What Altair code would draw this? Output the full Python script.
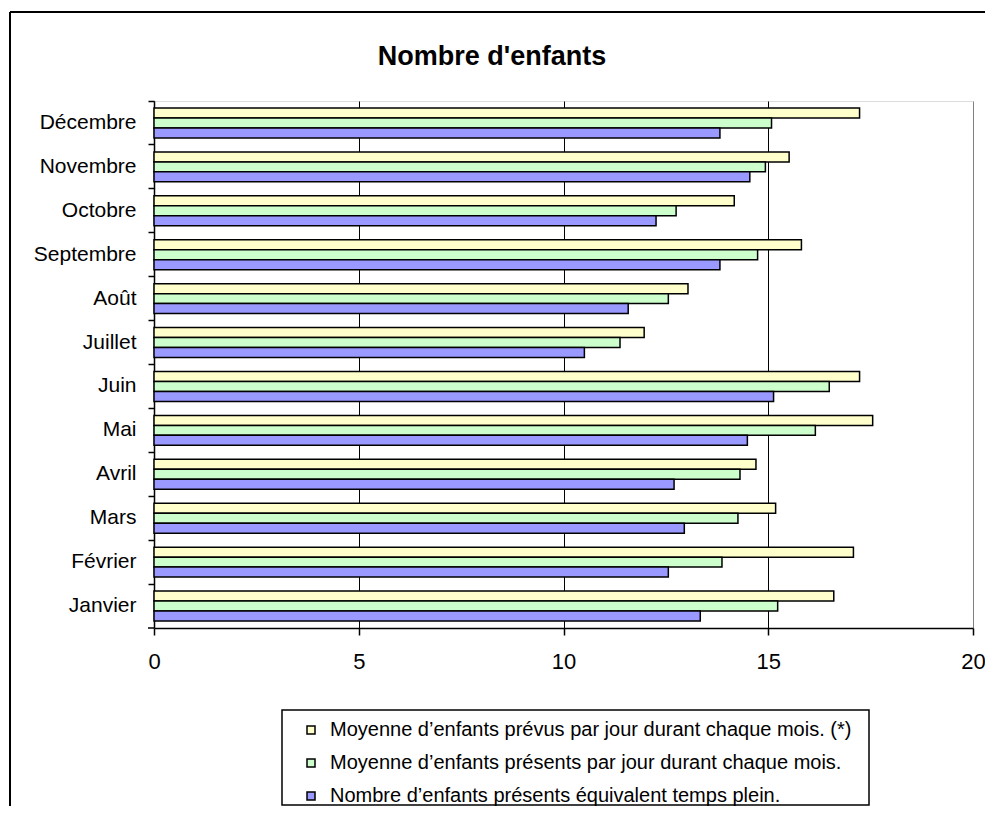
import altair as alt
import pandas as pd

months = ["Janvier", "Février", "Mars", "Avril", "Mai", "Juin", "Juillet",
          "Août", "Septembre", "Octobre", "Novembre", "Décembre"]
series = [
    "Moyenne d’enfants prévus par jour durant chaque mois. (*)",
    "Moyenne d’enfants présents par jour durant chaque mois.",
    "Nombre d’enfants présents équivalent temps plein.",
]
prevus = [16.60, 17.08, 15.18, 14.70, 17.55, 17.23, 11.97, 13.04, 15.81, 14.17, 15.51, 17.23]
presents = [15.23, 13.87, 14.26, 14.31, 16.15, 16.49, 11.38, 12.56, 14.74, 12.75, 14.93, 15.08]
etp = [13.34, 12.56, 12.95, 12.70, 14.49, 15.13, 10.51, 11.58, 13.82, 12.26, 14.55, 13.82]
colors = ["#FFFFCC", "#CCFFCC", "#9999FF"]
x_ticks = [0, 5, 10, 15, 20]
title_text = "Nombre d'enfants"

rows = []
for i, m in enumerate(months):
    for s, vals in zip(series, [prevus, presents, etp]):
        rows.append({"mois": m, "serie": s, "valeur": vals[i]})
df = pd.DataFrame(rows)

FONT = "Liberation Sans"

bars = alt.Chart(df).mark_bar(stroke="black", strokeWidth=1.5).encode(
    x=alt.X(
        "valeur:Q",
        scale=alt.Scale(domain=[0, 20], nice=False),
        axis=alt.Axis(
            values=x_ticks, title=None, grid=True,
            gridColor={"condition": {"test": "datum.value === 20", "value": "#808080"}, "value": "black"},
            gridWidth=1, domainColor="black", domainWidth=1.5,
            tickColor="black", tickSize=7, tickWidth=1.5, labelFlush=False,
            labelFontSize=22, labelPadding=16, labelColor="black", labelFont=FONT,
        ),
    ),
    y=alt.Y(
        "mois:N", sort=months[::-1],
        scale=alt.Scale(paddingInner=0, paddingOuter=0),
        axis=alt.Axis(
            title=None, bandPosition=0, tickSize=6, tickWidth=1.5, tickColor="black",
            domainColor="black", domainWidth=1.5, labelFontSize=21, labelPadding=12,
            labelColor="black", labelFont=FONT,
        ),
    ),
    yOffset=alt.YOffset("serie:N", sort=series, scale=alt.Scale(paddingInner=0, paddingOuter=0.7)),
    color=alt.Color(
        "serie:N", sort=series,
        scale=alt.Scale(domain=series, range=colors),
        legend=alt.Legend(
            title=None, orient="none", legendX=147, legendY=619, direction="vertical",
            symbolType="square", symbolSize=64, symbolStrokeColor="black", symbolStrokeWidth=1.5,
            labelFontSize=20, labelColor="black", labelFont=FONT, labelLimit=700,
            rowPadding=13, labelOffset=9, padding=0, symbolOffset=0,
        ),
    ),
)

one = pd.DataFrame({"t": [title_text]})

title = alt.Chart(one).mark_text(
    fontSize=27, fontWeight="bold", font=FONT, color="black", align="center", baseline="middle"
).encode(text="t:N", x=alt.value(338), y=alt.value(-44))

border_left = alt.Chart(one).mark_rule(color="black", strokeWidth=2).encode(
    x=alt.value(-144), y=alt.value(-89), y2=alt.value(720))
border_top = alt.Chart(one).mark_rule(color="black", strokeWidth=2).encode(
    x=alt.value(-144), x2=alt.value(840), y=alt.value(-89))
bottom_tick = alt.Chart(one).mark_rule(color="black", strokeWidth=1.5).encode(
    x=alt.value(-6), x2=alt.value(0), y=alt.value(527))
legend_frame = alt.Chart(one).mark_rect(
    fillOpacity=0, stroke="black", strokeWidth=1.5
).encode(x=alt.value(128), x2=alt.value(715), y=alt.value(609), y2=alt.value(704))

chart = alt.layer(bars, title, border_left, border_top, bottom_tick, legend_frame).properties(
    width=819, height=527,
    autosize=alt.AutoSizeParams(type="none"),
    padding={"left": 146, "top": 93, "right": 12, "bottom": 178},
    background="white",
).configure_view(stroke="#808080", strokeWidth=1.5).configure(font=FONT)

chart.save("out.html", embed_options={"renderer": "svg", "actions": False})
